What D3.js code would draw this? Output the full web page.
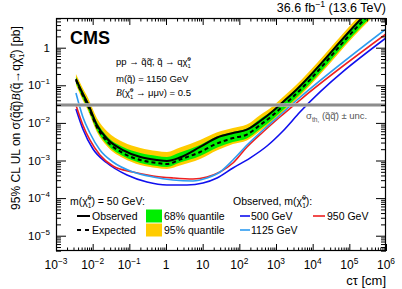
<!DOCTYPE html>
<html><head><meta charset="utf-8">
<script src="https://cdn.jsdelivr.net/npm/d3@7"></script>
<style>body{margin:0;background:#fff} svg{display:block} text{font-family:"Liberation Sans",Arial,Helvetica,sans-serif}</style>
</head><body><svg id="c" width="402" height="289"></svg>
<script>
// ---- data (cτ in cm, limits in pb) ----
const ctBand   = [3.5e-3, 5.1e-3, 7.5e-3, 0.013, 0.025, 0.067, 0.2, 0.57, 1.06, 2.4, 8.5, 25, 67, 160, 370, 830, 1550, 2900, 2.2e5, 4.1e5];
const observed = [0.147, 0.0664, 0.0318, 8.79e-3, 3.73e-3, 1.90e-3, 1.24e-3, 1.03e-3, 9.7e-4, 1.20e-3, 2.29e-3, 4.10e-3, 5.38e-3, 6.60e-3, 0.0112, 0.0207, 0.036, 0.0624, 6.17, 11.4];
const expected = [0.138, 0.0605, 0.0281, 7.78e-3, 3.2e-3, 1.58e-3, 1.03e-3, 8.58e-4, 8.07e-4, 1.06e-3, 1.68e-3, 2.85e-3, 3.96e-3, 4.90e-3, 8.79e-3, 0.0162, 0.0281, 0.0489, 4.83, 8.91];
const band68Lo = [0.115, 0.0503, 0.0234, 6.47e-3, 2.66e-3, 1.31e-3, 8.57e-4, 7.14e-4, 6.71e-4, 8.82e-4, 1.31e-3, 2.22e-3, 3.10e-3, 3.85e-3, 6.88e-3, 0.0127, 0.0220, 0.0383, 3.78, 6.97];
const band68Hi = [0.166, 0.0773, 0.0359, 0.01057, 4.35e-3, 2.28e-3, 1.58e-3, 1.32e-3, 1.24e-3, 1.63e-3, 2.58e-3, 4.40e-3, 5.72e-3, 7.05e-3, 0.0127, 0.0220, 0.0382, 0.0664, 6.56, 12.1];
const band95Lo = [0.102, 0.0446, 0.0207, 5.73e-3, 2.36e-3, 1.16e-3, 7.58e-4, 6.32e-4, 5.94e-4, 7.34e-4, 1.09e-3, 1.86e-3, 2.74e-3, 3.40e-3, 6.09e-3, 0.0112, 0.0195, 0.0339, 3.34, 6.17];
const band95Hi = [0.199, 0.0929, 0.0459, 0.0135, 5.90e-3, 3.10e-3, 2.15e-3, 1.79e-3, 1.68e-3, 2.21e-3, 3.50e-3, 5.60e-3, 7.30e-3, 9.00e-3, 0.0162, 0.0281, 0.0488, 0.0848, 8.38, 15.5];

const ct1125  = [3.5e-3, 5.4e-3, 8.4e-3, 0.0158, 0.0358, 0.126, 0.442, 1.55, 5.45, 13.1, 29.7, 67, 162, 442, 1280, 3730, 1e6];
const obs1125 = [0.0624, 0.01436, 5.38e-3, 1.90e-3, 9.12e-4, 4.94e-4, 3.64e-4, 3.03e-4, 2.85e-4, 3.43e-4, 4.94e-4, 1.03e-3, 2.58e-3, 6.47e-3, 0.0162, 0.0406, 3.14];
const ct950   = [3.5e-3, 5.4e-3, 8.4e-3, 0.0158, 0.0358, 0.126, 0.442, 1.55, 5.45, 13.1, 29.7, 67, 162, 442, 1280, 4500, 1e6];
const obs950  = [0.0299, 8.79e-3, 3.51e-3, 1.40e-3, 7.14e-4, 4.94e-4, 3.87e-4, 3.43e-4, 3.22e-4, 3.64e-4, 4.94e-4, 8.58e-4, 2.29e-3, 5.73e-3, 0.01436, 0.0406, 2.31];
const ct500   = [3.5e-3, 5.4e-3, 0.0102, 0.0246, 0.0863, 0.303, 1.06, 3.73, 10.2, 24.6, 67, 195, 568, 1550, 4500, 1e6];
const obs500  = [0.0234, 6.89e-3, 2.02e-3, 8.58e-4, 4.11e-4, 2.68e-4, 2.23e-4, 2.23e-4, 2.52e-4, 3.43e-4, 6.32e-4, 1.16e-3, 2.43e-3, 6.09e-3, 0.0194, 1.81];

const sigmaTh = [0.0299, 0.0268, 0.0334]; // central, low, high
const xDomain = [1e-3, 1e6];
const yDomain = [3.92e-6, 6.16];
const xTickExps = [-3, -2, -1, 0, 1, 2, 3, 4, 5, 6];
const yTickExps = [-5, -4, -3, -2, -1, 0];

// ---- layout ----
const L = 56, R = 386, T = 18, B = 251;
const svg = d3.select("#c");
const x = d3.scaleLog().domain(xDomain).range([L, R]);
const y = d3.scaleLog().domain(yDomain).range([B, T]);

svg.append("defs").append("clipPath").attr("id", "clip")
  .append("rect").attr("x", L).attr("y", T).attr("width", R - L).attr("height", B - T);
const plot = svg.append("g").attr("clip-path", "url(#clip)");

const idx = d3.range(ctBand.length);
const area = (lo, hi) => d3.area().curve(d3.curveMonotoneX)
  .x(i => x(ctBand[i])).y0(i => y(lo[i])).y1(i => y(hi[i]));
plot.append("path").attr("d", area(band95Lo, band95Hi)(idx)).attr("fill", "#ffcc00");
plot.append("path").attr("d", area(band68Lo, band68Hi)(idx)).attr("fill", "#00ee00");

const line = (xs, ys) => d3.line().curve(d3.curveMonotoneX)
  .x(i => x(xs[i])).y(i => y(ys[i]))(d3.range(xs.length));
plot.append("path").attr("d", line(ctBand, expected)).attr("fill", "none")
  .attr("stroke", "#000").attr("stroke-width", 2).attr("stroke-dasharray", "4,3");
plot.append("path").attr("d", line(ctBand, observed)).attr("fill", "none")
  .attr("stroke", "#000").attr("stroke-width", 2);
plot.append("path").attr("d", line(ct500, obs500)).attr("fill", "none").attr("stroke", "#1010ee").attr("stroke-width", 1.6);
plot.append("path").attr("d", line(ct950, obs950)).attr("fill", "none").attr("stroke", "#ee2020").attr("stroke-width", 1.6);
plot.append("path").attr("d", line(ct1125, obs1125)).attr("fill", "none").attr("stroke", "#2d9cf0").attr("stroke-width", 1.6);

// theory line
plot.append("rect").attr("x", L).attr("width", R - L)
  .attr("y", y(sigmaTh[2])).attr("height", y(sigmaTh[1]) - y(sigmaTh[2])).attr("fill", "#b4b4b4");
plot.append("line").attr("x1", L).attr("x2", R).attr("y1", y(sigmaTh[0])).attr("y2", y(sigmaTh[0]))
  .attr("stroke", "#8c8c8c").attr("stroke-width", 2);

// ---- axes (ROOT style, ticks inside) ----
const xMajor = xTickExps.map(e => Math.pow(10, e));
const yMajor = yTickExps.map(e => Math.pow(10, e));
const minors = (lo, hi) => { const r = []; for (let e = lo; e < hi; e++) for (let m = 2; m <= 9; m++) r.push(m * Math.pow(10, e)); return r; };
const xMinor = minors(-3, 6);
const yMinor = minors(-6, 1).filter(v => v >= yDomain[0] && v <= yDomain[1]);
function ax(gen, tr, vals, size) {
  const g = svg.append("g").attr("transform", tr)
    .call(gen.tickValues(vals).tickSizeInner(size).tickSizeOuter(0).tickFormat(""));
  g.select(".domain").remove();
  g.selectAll("line").attr("stroke", "#000").attr("stroke-width", 1);
}
ax(d3.axisBottom(x), `translate(0,${B})`, xMajor, -7);
ax(d3.axisBottom(x), `translate(0,${B})`, xMinor, -3.5);
ax(d3.axisTop(x), `translate(0,${T})`, xMajor, -7);
ax(d3.axisTop(x), `translate(0,${T})`, xMinor, -3.5);
ax(d3.axisLeft(y), `translate(${L},0)`, yMajor, -10);
ax(d3.axisLeft(y), `translate(${L},0)`, yMinor, -5);
ax(d3.axisRight(y), `translate(${R},0)`, yMajor, -10);
ax(d3.axisRight(y), `translate(${R},0)`, yMinor, -5);
svg.append("rect").attr("x", L + 0.5).attr("y", T + 0.5).attr("width", R - L - 1).attr("height", B - T - 1)
  .attr("fill", "none").attr("stroke", "#000").attr("stroke-width", 1.2);

// ---- rich text helper ----
function rich(g, px, py, parts, size, anchor, fill) {
  const t = g.append("text").attr("x", px).attr("y", py).attr("font-size", size)
    .attr("text-anchor", anchor || "start").attr("fill", fill || "#000");
  let shift = 0;
  const put = (s, off, fs, extra) => {
    const ts = t.append("tspan").attr("dy", off - shift).text(s);
    if (fs) ts.attr("font-size", fs);
    if (extra) extra(ts);
    shift = off; return ts;
  };
  parts.forEach(p => {
    const [s, type] = Array.isArray(p) ? p : [p, "n"];
    if (type === "n") put(s, 0);
    else if (type === "it") put(s, 0, null, ts => ts.attr("font-style", "italic").attr("font-family", "Liberation Serif, serif"));
    else if (type === "sup") put(s, -size * 0.42, size * 0.7);
    else if (type === "sub") put(s, size * 0.3, size * 0.7);
    else if (type === "chi") {
      put("χ\u0303", 0);
      put("1", size * 0.32, size * 0.62);
      put("0", -size * 0.45, size * 0.62, ts => ts.attr("dx", -size * 0.62 * 0.556));
    }
  });
  return t;
}
const sup = e => e === 0 ? ["1"] : e === 1 ? ["10"] : ["10", [(e < 0 ? "\u2212" : "") + Math.abs(e), "sup"]];

xTickExps.forEach(e => rich(svg, x(Math.pow(10, e)), 269, sup(e), 12, "middle"));
yTickExps.forEach(e => rich(svg, 50, y(Math.pow(10, e)) + 4, sup(e), 11.5, "end"));

// axis titles
rich(svg, R, 285, ["cτ [cm]"], 13, "end");
const yt = svg.append("g").attr("transform", "translate(20,118) rotate(-90)");
rich(yt, 0, 0, ["95% CL UL on σ(q\u0303q\u0303\u0304)", ["B", "it"], "(q\u0303→q", ["", "chi"], ") [pb]"], 12, "middle");

// header
rich(svg, R, 12, ["36.6 fb", ["\u22121", "sup"], " (13.6 TeV)"], 12.5, "end");
svg.append("text").attr("x", 70).attr("y", 44).attr("font-size", 18).attr("font-weight", "bold").text("CMS");

// process text
rich(svg, 116, 65, ["pp → q\u0303q\u0303\u0304, q\u0303 → q", ["", "chi"]], 9.5);
rich(svg, 116, 82, ["m(q\u0303) = 1150 GeV"], 9.5);
rich(svg, 116, 96, [["B", "it"], "(", ["", "chi"], " → μμν) = 0.5"], 9.5);

// theory label
rich(svg, 306, 119, ["σ", ["th,", "sub"], " (q\u0303q\u0303\u0304) ± unc."], 9.5, "start", "#555");

// ---- legend ----
const lg = svg.append("g");
rich(lg, 70, 205, ["m(", ["", "chi"], ") = 50 GeV:"], 10.5);
rich(lg, 233, 205, ["Observed, m(", ["", "chi"], "):"], 10.5);
const row1 = 216, row2 = 230;
lg.append("line").attr("x1", 77).attr("x2", 90).attr("y1", row1).attr("y2", row1).attr("stroke", "#000").attr("stroke-width", 2);
lg.append("line").attr("x1", 77).attr("x2", 90).attr("y1", row2).attr("y2", row2).attr("stroke", "#000").attr("stroke-width", 2).attr("stroke-dasharray", "4,4");
rich(lg, 92, row1 + 4, ["Observed"], 10.5);
rich(lg, 92, row2 + 4, ["Expected"], 10.5);
lg.append("rect").attr("x", 146).attr("y", row1 - 6.5).attr("width", 16).attr("height", 13).attr("fill", "#00ee00");
lg.append("rect").attr("x", 146).attr("y", row2 - 6.5).attr("width", 16).attr("height", 13).attr("fill", "#ffcc00");
rich(lg, 164, row1 + 4, ["68% quantile"], 10.5);
rich(lg, 164, row2 + 4, ["95% quantile"], 10.5);
lg.append("line").attr("x1", 240).attr("x2", 250).attr("y1", row1).attr("y2", row1).attr("stroke", "#1010ee").attr("stroke-width", 1.6);
lg.append("line").attr("x1", 240).attr("x2", 250).attr("y1", row2).attr("y2", row2).attr("stroke", "#2d9cf0").attr("stroke-width", 1.6);
lg.append("line").attr("x1", 313).attr("x2", 325).attr("y1", row1).attr("y2", row1).attr("stroke", "#ee2020").attr("stroke-width", 1.6);
rich(lg, 251, row1 + 4, ["500 GeV"], 10.5);
rich(lg, 251, row2 + 4, ["1125 GeV"], 10.5);
rich(lg, 327, row1 + 4, ["950 GeV"], 10.5);
</script></body></html>
